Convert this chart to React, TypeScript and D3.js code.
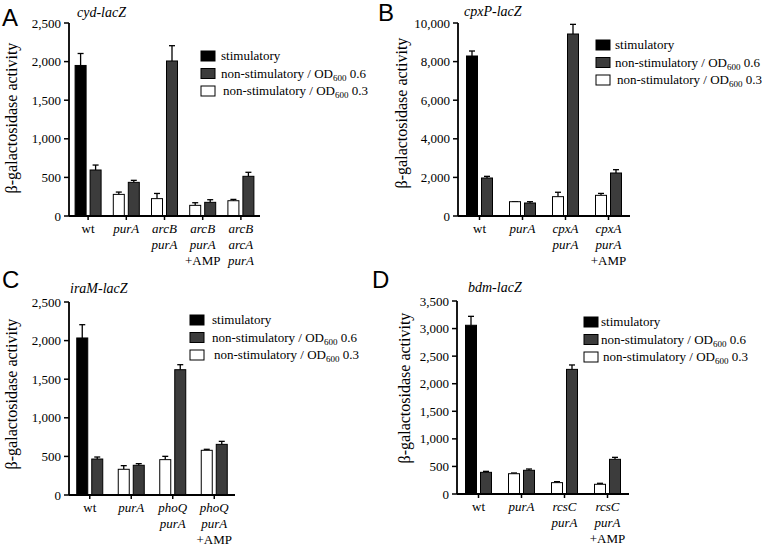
import React from "react";
import * as d3 from "d3";

// ---------- data ----------
const seriesNames = ["stimulatory", "non-stimulatory / OD600 0.6", "non-stimulatory / OD600 0.3"];

const groupsA = [["wt"], ["purA"], ["arcB", "purA"], ["arcB", "purA", "+AMP"], ["arcB", "arcA", "purA"]];
const firstA = [1950, 280, 225, 138, 198];
const firstErrA = [2105, 310, 292, 172, 215];
const secondA = [596, 436, 2008, 177, 514];
const secondErrA = [660, 462, 2206, 211, 566];
const ticksA = [0, 500, 1000, 1500, 2000, 2500];

const groupsB = [["wt"], ["purA"], ["cpxA", "purA"], ["cpxA", "purA", "+AMP"]];
const firstB = [8290, 741, 1002, 1071];
const firstErrB = [8549, 741, 1230, 1170];
const secondB = [1969, 674, 9430, 2228];
const secondErrB = [2055, 741, 9930, 2400];
const ticksB = [0, 2000, 4000, 6000, 8000, 10000];

const groupsC = [["wt"], ["purA"], ["phoQ", "purA"], ["phoQ", "purA", "+AMP"]];
const firstC = [2034, 333, 458, 579];
const firstErrC = [2206, 380, 501, 592];
const secondC = [466, 385, 1623, 656];
const secondErrC = [492, 406, 1688, 695];
const ticksC = [0, 500, 1000, 1500, 2000, 2500];

const groupsD = [["wt"], ["purA"], ["rcsC", "purA"], ["rcsC", "purA", "+AMP"]];
const firstD = [3060, 368, 206, 176];
const firstErrD = [3222, 381, 224, 194];
const secondD = [393, 430, 2260, 629];
const secondErrD = [411, 453, 2340, 665];
const ticksD = [0, 500, 1000, 1500, 2000, 2500, 3000, 3500];

const titles = ["cyd-lacZ", "cpxP-lacZ", "iraM-lacZ", "bdm-lacZ"];
const letters = ["A", "B", "C", "D"];

// ---------- styles ----------
const SERIF = "Liberation Serif, Times New Roman, Times, serif";
const SANS = "Liberation Sans, Arial, Helvetica, sans-serif";
const COLORS = ["#000000", "#3c3c3c", "#ffffff"];

const fmt = d3.format(",");

type PanelProps = {
  letter: string;
  title: string;
  groups: string[][];
  first: number[];
  firstErr: number[];
  second: number[];
  secondErr: number[];
  ticks: number[];
  layout: {
    x0: number; x1: number; y0: number; yTop: number;
    letterX: number; letterY: number;
    titleX: number; titleY: number;
    yLabelX: number; yLabelY: number;
    legX: number; legY: number; legText: number;
  };
};

function Panel(p: PanelProps) {
  const L = p.layout;
  const maxV = p.ticks[p.ticks.length - 1];
  const y = d3.scaleLinear().domain([0, maxV]).range([L.y0, L.yTop]);
  const x = d3.scaleBand<number>().domain(d3.range(p.groups.length)).range([L.x0, L.x1]).paddingInner(0).paddingOuter(0);
  const barW = 11;
  const gap = 4;
  const bars: any[] = [];
  p.groups.forEach((g, i) => {
    const c = (x(i) as number) + x.bandwidth() / 2;
    const entries = [
      { v: p.first[i], e: p.firstErr[i], cx: c - gap / 2 - barW / 2, fill: i === 0 ? COLORS[0] : COLORS[2] },
      { v: p.second[i], e: p.secondErr[i], cx: c + gap / 2 + barW / 2, fill: COLORS[1] },
    ];
    entries.forEach((b, k) => {
      bars.push(
        <g key={`${i}-${k}`}>
          <line x1={b.cx} x2={b.cx} y1={y(b.v)} y2={y(b.e)} stroke="#000" strokeWidth={1.3} />
          <line x1={b.cx - 3} x2={b.cx + 3} y1={y(b.e)} y2={y(b.e)} stroke="#000" strokeWidth={1.3} />
          <rect x={b.cx - barW / 2} y={y(b.v)} width={barW} height={L.y0 - y(b.v)} fill={b.fill} stroke="#000" strokeWidth={1} />
        </g>
      );
    });
  });

  return (
    <g>
      <text x={L.letterX} y={L.letterY} style={{ fontFamily: SANS }} fontSize={24}>{p.letter}</text>
      <text x={L.titleX} y={L.titleY} style={{ fontFamily: SERIF, fontStyle: "italic" }} fontSize={14}>{p.title}</text>
      <text transform={`translate(${L.yLabelX},${L.yLabelY}) rotate(-90)`} textAnchor="middle" style={{ fontFamily: SERIF }} fontSize={16}>β-galactosidase activity</text>
      {bars}
      {/* y axis */}
      <line x1={L.x0} x2={L.x0} y1={L.y0} y2={L.yTop} stroke="#000" strokeWidth={1.8} />
      {p.ticks.map((t) => (
        <g key={t}>
          <line x1={L.x0 - 5} x2={L.x0} y1={y(t)} y2={y(t)} stroke="#000" strokeWidth={1.5} />
          <text x={L.x0 - 8} y={y(t)} dy="0.35em" textAnchor="end" style={{ fontFamily: SERIF }} fontSize={13}>{fmt(t)}</text>
        </g>
      ))}
      {/* x axis */}
      <line x1={L.x0} x2={L.x1} y1={L.y0} y2={L.y0} stroke="#000" strokeWidth={1.8} />
      {p.groups.map((g, i) => {
        const c = (x(i) as number) + x.bandwidth() / 2;
        return (
          <g key={i}>
            <line x1={c} x2={c} y1={L.y0} y2={L.y0 + 4} stroke="#000" strokeWidth={1.5} />
            {g.map((s, j) => (
              <text key={j} x={c} y={L.y0 + 17 + j * 16} textAnchor="middle" fontSize={13}
                style={{ fontFamily: SERIF, fontStyle: s === "wt" || s === "+AMP" ? "normal" : "italic" }}>{s}</text>
            ))}
          </g>
        );
      })}
      {/* legend */}
      {seriesNames.map((n, i) => {
        const yy = L.legY + i * 17.5;
        const parts = n.split("OD600");
        return (
          <g key={n}>
            <rect x={L.legX} y={yy - 5} width={14} height={10} fill={COLORS[i]} stroke="#000" strokeWidth={1} />
            <text x={L.legText + (i === 2 ? 2 : 0)} y={yy} dy="0.33em" style={{ fontFamily: SERIF }} fontSize={13}>
              {parts.length > 1 ? (
                <>
                  {parts[0]}OD<tspan fontSize={9} dy={3}>600</tspan><tspan dy={-3}>{parts[1]}</tspan>
                </>
              ) : n}
            </text>
          </g>
        );
      })}
    </g>
  );
}

const layouts = [
  { x0: 69, x1: 260, y0: 216, yTop: 23, letterX: 2, letterY: 26, titleX: 77, titleY: 17, yLabelX: 17, yLabelY: 118, legX: 201, legY: 56, legText: 221 },
  { x0: 458, x1: 630, y0: 216, yTop: 23, letterX: 378, letterY: 21, titleX: 464, titleY: 16, yLabelX: 407, yLabelY: 113, legX: 596, legY: 45, legText: 615 },
  { x0: 69, x1: 235, y0: 495, yTop: 302, letterX: 2, letterY: 288, titleX: 70, titleY: 293, yLabelX: 17, yLabelY: 394, legX: 190, legY: 320, legText: 212 },
  { x0: 457, x1: 629, y0: 494, yTop: 301, letterX: 372, letterY: 288, titleX: 468, titleY: 292, yLabelX: 410, yLabelY: 388, legX: 584, legY: 322, legText: 601 },
];

export default function App() {
  const panels = [
    { groups: groupsA, first: firstA, firstErr: firstErrA, second: secondA, secondErr: secondErrA, ticks: ticksA },
    { groups: groupsB, first: firstB, firstErr: firstErrB, second: secondB, secondErr: secondErrB, ticks: ticksB },
    { groups: groupsC, first: firstC, firstErr: firstErrC, second: secondC, secondErr: secondErrC, ticks: ticksC },
    { groups: groupsD, first: firstD, firstErr: firstErrD, second: secondD, secondErr: secondErrD, ticks: ticksD },
  ];
  return (
    <svg width={762} height={546} style={{ position: "absolute", left: 0, top: 0, background: "#fff" }}>
      <rect width={762} height={546} fill="#fff" />
      {panels.map((p, i) => (
        <Panel key={i} letter={letters[i]} title={titles[i]} layout={layouts[i]} {...p} />
      ))}
    </svg>
  );
}
